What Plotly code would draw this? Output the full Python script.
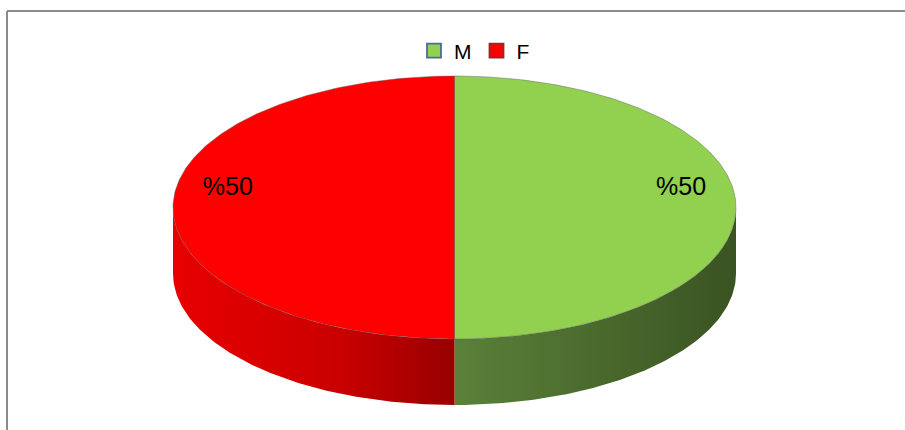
import numpy as np
import plotly.graph_objects as go

# ---- data ----
labels = ["M", "F"]
values = [50, 50]
top_colors = ["#92D050", "#FF0000"]
legend_edge = ["#4F6A96", "#8E2B2B"]
side_scales = [
    [[0, "#5A8139"], [0.5, "#4A6A2D"], [1, "#3A5322"]],
    [[0, "#E80000"], [0.6, "#C90000"], [1, "#980000"]],
]

# ---- geometry (layout, in pixel-like axis units) ----
W, H = 905, 430
cx, cy = 454.5, 207.5
a, b = 281.5, 131.5
depth = 66
start = 90.0
FONT = "Liberation Sans, Arial, sans-serif"

fig = go.Figure()

total = float(sum(values))
cum = 0.0
slices = []
for lab, v in zip(labels, values):
    t0 = start - cum / total * 360.0
    t1 = start - (cum + v) / total * 360.0
    slices.append((lab, v, t0, t1))
    cum += v


def top_pt(t):
    r = np.radians(t)
    return cx + a * np.cos(r), cy - b * np.sin(r)


# side faces (front half of the rim only)
for i, (lab, v, t0, t1) in enumerate(slices):
    lo, hi = min(t0, t1), max(t0, t1)
    for k in range(-2, 3):
        flo, fhi = 180 + 360 * k, 360 + 360 * k
        s, e = max(lo, flo), min(hi, fhi)
        if e - s <= 0.01:
            continue
        ts = np.linspace(s, e, 120)
        xs, ys = top_pt(ts)
        px = np.concatenate([xs, xs[::-1], xs[:1]])
        py = np.concatenate([ys, ys[::-1] + depth, ys[:1]])
        fig.add_trace(go.Scatter(
            x=px, y=py, mode="lines", fill="toself",
            line=dict(width=0, color=top_colors[i]),
            fillgradient=dict(type="horizontal", colorscale=side_scales[i]),
            hoverinfo="skip", showlegend=False))

# top faces
for i, (lab, v, t0, t1) in enumerate(slices):
    ts = np.linspace(t0, t1, 240)
    xs, ys = top_pt(ts)
    px = np.concatenate([[cx], xs, [cx]])
    py = np.concatenate([[cy], ys, [cy]])
    fig.add_trace(go.Scatter(
        x=px, y=py, mode="lines", fill="toself", fillcolor=top_colors[i],
        line=dict(width=0.8, color="rgba(90,90,90,0.55)"),
        hoverinfo="skip", showlegend=False))

# percentage labels
for i, (lab, v, t0, t1) in enumerate(slices):
    mid = (t0 + t1) / 2.0
    r = np.radians(mid)
    lx = cx + 0.805 * a * np.cos(r)
    ly = cy - 0.805 * b * np.sin(r) - 19
    fig.add_trace(go.Scatter(
        x=[lx], y=[ly], mode="text", text=["%" + f"{v / total * 100:.0f}"],
        textfont=dict(family=FONT, size=25, color="#000000"),
        textposition="middle center", hoverinfo="skip", showlegend=False))

# legend entries
for i, lab in enumerate(labels):
    fig.add_trace(go.Scatter(
        x=[None], y=[None], mode="markers", name=lab,
        marker=dict(symbol="square", size=14, color=top_colors[i],
                    line=dict(width=1.8, color=legend_edge[i]))))

# chart-area frame (left and top edges visible in the crop)
frame = dict(color="#8C8C8C", width=2)
fig.add_shape(type="line", xref="paper", yref="paper",
              x0=7 / W, x1=7 / W, y0=0, y1=1 - 11 / H, line=frame, layer="below")
fig.add_shape(type="line", xref="paper", yref="paper",
              x0=7 / W, x1=1, y0=1 - 11 / H, y1=1 - 11 / H, line=frame, layer="below")

fig.update_layout(
    width=W, height=H,
    margin=dict(l=0, r=0, t=0, b=0),
    paper_bgcolor="white", plot_bgcolor="white",
    xaxis=dict(range=[0, W], visible=False, fixedrange=True),
    yaxis=dict(range=[H, 0], visible=False, fixedrange=True),
    showlegend=True,
    legend=dict(orientation="h", x=414 / W, xanchor="left",
                y=1 - 51 / H, yanchor="middle",
                font=dict(family=FONT, size=21, color="#000000"),
                itemwidth=30, bgcolor="rgba(0,0,0,0)"),
    font=dict(family=FONT),
)

fig.write_html("out.html",
               config={"displayModeBar": False},
               post_script="document.body.style.margin='0';"
                           "document.body.style.padding='0';"
                           "document.documentElement.style.overflow='hidden';"
                           "document.body.style.overflow='hidden';")
